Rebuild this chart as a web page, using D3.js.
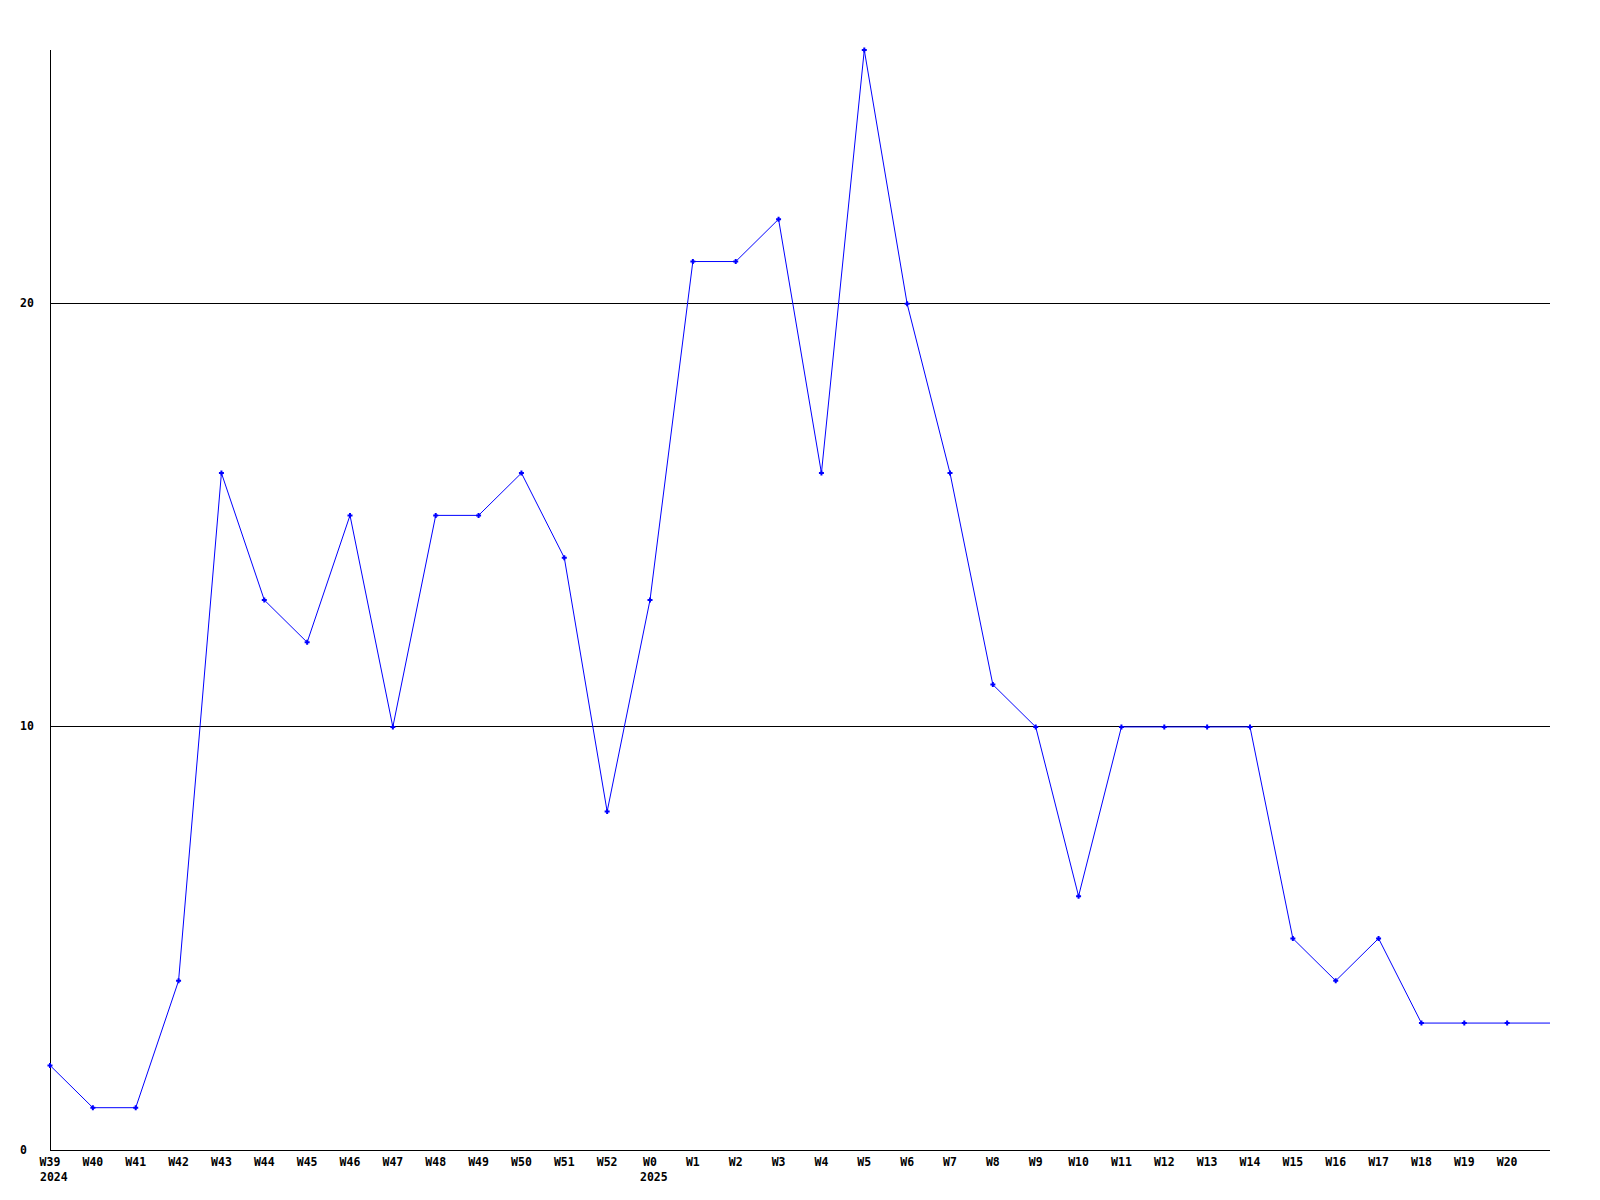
<!DOCTYPE html>
<html><head><meta charset="utf-8">
<script src="https://cdn.jsdelivr.net/npm/d3@7"></script>
<style>body{margin:0;background:#fff}text{font-family:"DejaVu Sans Mono",monospace;font-weight:bold;font-size:11.5px;fill:#000}</style>
</head><body><svg id="c" width="1600" height="1200"></svg>
<script>
const weeks = ["W39","W40","W41","W42","W43","W44","W45","W46","W47","W48","W49","W50","W51","W52","W0","W1","W2","W3","W4","W5","W6","W7","W8","W9","W10","W11","W12","W13","W14","W15","W16","W17","W18","W19","W20",""];
const values = [2,1,1,4,16,13,12,15,10,15,15,16,14,8,13,21,21,22,16,26,20,16,11,10,6,10,10,10,10,5,4,5,3,3,3,3];
const yearLabels = [{week:"W39",year:"2024"},{week:"W0",year:"2025"}];
const yTicks = [0,10,20];

(function(){
const svg = d3.select("#c");
const mLeft = 50, mRight = 1550, mTop = 50, mBottom = 1150;
const x = d3.scalePoint().domain(d3.range(weeks.length)).range([mLeft, mRight]);
const y = d3.scaleLinear().domain([0, 26]).range([mBottom, mTop]);

svg.selectAll("line.grid").data(yTicks.filter(d => d > 0)).join("line")
  .attr("x1", mLeft).attr("x2", mRight)
  .attr("y1", d => Math.floor(y(d)) + 0.5).attr("y2", d => Math.floor(y(d)) + 0.5)
  .attr("stroke", "#000").attr("stroke-width", 1);
svg.append("line").attr("x1", mLeft + 0.5).attr("x2", mLeft + 0.5).attr("y1", mTop).attr("y2", mBottom).attr("stroke", "#000");
svg.append("line").attr("x1", mLeft).attr("x2", mRight).attr("y1", mBottom + 0.5).attr("y2", mBottom + 0.5).attr("stroke", "#000");

svg.selectAll("text.yl").data(yTicks).join("text")
  .attr("x", 20).attr("y", d => Math.floor(y(d)) + 4).text(d => d);

svg.selectAll("text.xl").data(weeks.map((w, i) => ({w, i})).filter(d => d.w)).join("text")
  .attr("x", d => x(d.i)).attr("y", 1166).attr("text-anchor", "middle").text(d => d.w);
yearLabels.forEach(yl => {
  const i = weeks.indexOf(yl.week);
  svg.append("text").attr("x", x(i) - 10).attr("y", 1181).text(yl.year);
});

const line = d3.line().x((d, i) => x(i)).y(d => y(d));
svg.append("path").datum(values).attr("d", line).attr("fill", "none").attr("stroke", "#0000ff").attr("stroke-width", 1);

const pts = values.map((v, i) => ({v, i})).filter(d => weeks[d.i]);
svg.selectAll("path.m").data(pts).join("path")
  .attr("transform", d => `translate(${x(d.i)},${y(d.v)})`)
  .attr("d", "M-2.5,-1L2.5,-1L2.5,1L-2.5,1Z M-1,-2.5L1,-2.5L1,2.5L-1,2.5Z")
  .attr("fill", "#0000ff");
})();
</script></body></html>
